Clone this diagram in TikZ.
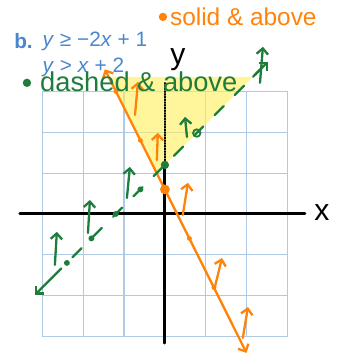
\documentclass[tikz,border=0pt]{standalone}
\usepackage{fontspec}
\setmainfont{Liberation Sans}
\usepackage{tikz}
\usetikzlibrary{arrows.meta, positioning, calc}
\definecolor{penorange}{RGB}{255,130,10}
\definecolor{pengreen}{RGB}{30,125,60}
\definecolor{bookblue}{RGB}{75,135,205}
\definecolor{paperblue}{RGB}{175,202,228}
\definecolor{highlight}{RGB}{255,240,90}

\begin{document}
\begin{tikzpicture}[x=0.6cm, y=0.6cm, >={Straight Barb[length=4pt, width=8pt]}, line cap=round,
  gridline/.style={paperblue, line width=0.8pt},
  orangepen/.style={penorange, line width=1.6pt},
  greenpen/.style={pengreen, line width=1.6pt},
  hand/.style={inner sep=0pt, font=\fontsize{17}{20}\selectfont},
  booktext/.style={inner sep=0pt, text=bookblue, font=\fontsize{14.5}{16}\selectfont}]
\useasboundingbox (-6.73,-5.88) rectangle (7.14,8.73);
% graph paper
\draw[gridline] (-5,-5) grid (5,5);
% solution region
\fill[highlight, opacity=0.6] (-1/3,5/3) -- (-2.3,5.59) -- (3.59,5.59) -- cycle;
% axes
\draw[line width=2pt] (-5.92,0) -- (5.71,0);
\draw[line width=2pt] (0,1.9) -- (0,-5.27);
\draw[densely dotted, line width=0.9pt] (0,5.35) -- (0,1.9);
\node[hand, font=\fontsize{21}{21}\selectfont] (ylabel) at (0.53,6.3) {y};
\node[hand, font=\fontsize{21}{21}\selectfont] (xlabel) at (6.41,0.04) {x};
% textbook text
\node[booktext, anchor=west] (partb) at (-6.16,7.06) {\textbf{b.}};
\node[booktext, anchor=west] (ineqone) at (-5.0,7.06) {\textit{y} ≥ −2\textit{x} + 1};
\node[booktext, anchor=west] (ineqtwo) at (-5.0,6.0) {\textit{y} > \textit{x} + 2};
% y >= -2x+1 : solid
\draw[orangepen, <->] (-2.45,5.9) -- (3.33,-5.67);
\foreach \px/\py in {-2/5, -1/3, 1/-1, 2/-3}
  \fill[penorange] (\px,\py) circle (0.1);
\fill[penorange] (0,1) circle (0.2);
\foreach \ax/\ay/\bx/\by in {-1.22/4.04/-1.10/5.39, -0.33/2.2/-0.29/3.31,
    0.73/-0.04/0.94/1.27, 2.04/-2.98/2.33/-1.80, 3.18/-5.06/3.39/-3.80}
  \draw[orangepen, ->] (\ax,\ay) -- (\bx,\by);
% y > x+2 : dashed
\draw[greenpen, dash pattern=on 9pt off 11pt] (-4.6,-2.6) -- (3.9,5.9);
\draw[greenpen, ->] (-4.6,-2.6) -- (-5.3,-3.3);
\draw[greenpen, ->] (3.6,5.6) -- (4.2,6.2);
\foreach \px/\py in {-4/-2, -3/-1, -2/0, -1/1}
  \fill[pengreen] (\px,\py) circle (0.12);
\fill[pengreen] (0,2) circle (0.17);
\draw[greenpen, line width=1.3pt] (1.3,3.3) circle (0.15);
\foreach \ax/\ay/\bx/\by in {-4.49/-2.08/-4.41/-0.73, -3.14/-0.78/-3.06/0.57,
    -1.55/0.65/-1.43/1.92, 0.90/3.14/0.82/3.96, 3.88/5.35/4.0/6.82}
  \draw[greenpen, ->] (\ax,\ay) -- (\bx,\by);
% notes
\fill[penorange] (-0.08,8.04) circle (0.17);
\node[hand, anchor=west, text=penorange] (solidnote) at (0.2,8.04) {solid \& above};
\fill[pengreen] (-5.63,5.35) circle (0.17);
\node[hand, anchor=base west, text=pengreen, font=\fontsize{19}{22}\selectfont] (dashnote) at (-5.1,5.0) {dashed \& above};
\end{tikzpicture}
\end{document}
